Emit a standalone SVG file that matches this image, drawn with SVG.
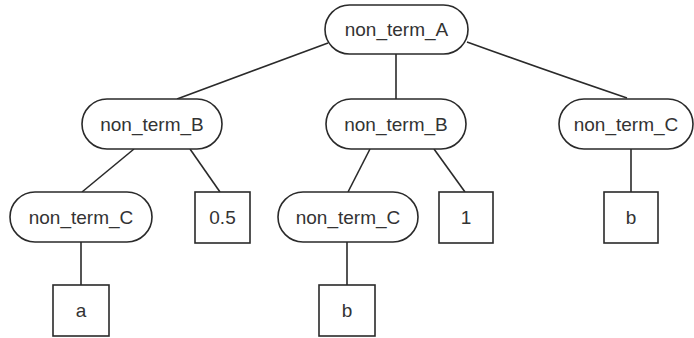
<svg xmlns="http://www.w3.org/2000/svg" width="694" height="338" viewBox="0 0 694 338">
  <style>
    .nt rect { fill: #ffffff; stroke: #2a2a2a; stroke-width: 1.6; }
    .lf rect { fill: #ffffff; stroke: #2a2a2a; stroke-width: 1.6; }
    text { font-family: "Liberation Sans", Arial, sans-serif; font-size: 19px; fill: #333333; text-anchor: middle; }
    .edges path, .edges line { stroke: #2a2a2a; stroke-width: 1.6; fill: none; }
  </style>
  <rect x="0" y="0" width="694" height="338" fill="#ffffff"/>

  <!-- tree edges -->
  <g class="edges">
    <path d="M328,43 Q250,72 177,99"/>
    <line x1="396" y1="54" x2="396" y2="99"/>
    <path d="M467,42 Q550,72 627,98"/>
    <line x1="134" y1="149" x2="82" y2="192"/>
    <line x1="190" y1="149" x2="220" y2="192"/>
    <line x1="370" y1="149" x2="348" y2="192"/>
    <line x1="434" y1="149" x2="465" y2="192"/>
    <line x1="631" y1="149" x2="631" y2="192"/>
    <line x1="81" y1="242" x2="81" y2="285"/>
    <line x1="347" y1="242" x2="347" y2="285"/>
  </g>

  <!-- non-terminal nodes -->
  <g id="nA" class="nt">
    <rect x="325" y="5" width="143" height="49" rx="24.5"/>
    <text x="396.5" y="36">non_term_A</text>
  </g>
  <g id="nB1" class="nt">
    <rect x="82" y="99" width="140" height="50" rx="25"/>
    <text x="152" y="131">non_term_B</text>
  </g>
  <g id="nB2" class="nt">
    <rect x="326" y="99" width="140" height="50" rx="25"/>
    <text x="396" y="131">non_term_B</text>
  </g>
  <g id="nC3" class="nt">
    <rect x="559" y="99" width="134" height="50" rx="25"/>
    <text x="626" y="131">non_term_C</text>
  </g>
  <g id="nC1" class="nt">
    <rect x="10" y="192" width="142" height="50" rx="25"/>
    <text x="81" y="224">non_term_C</text>
  </g>
  <g id="nC2" class="nt">
    <rect x="278" y="192" width="140" height="50" rx="25"/>
    <text x="348" y="224">non_term_C</text>
  </g>

  <!-- leaf nodes -->
  <g id="l05" class="lf">
    <rect x="195" y="192" width="55" height="51"/>
    <text x="222.5" y="224">0.5</text>
  </g>
  <g id="l1" class="lf">
    <rect x="439" y="192" width="54" height="51"/>
    <text x="466" y="224">1</text>
  </g>
  <g id="lb1" class="lf">
    <rect x="604" y="192" width="54" height="51"/>
    <text x="631" y="224">b</text>
  </g>
  <g id="la" class="lf">
    <rect x="53" y="285" width="56" height="51"/>
    <text x="81" y="317">a</text>
  </g>
  <g id="lb2" class="lf">
    <rect x="319" y="285" width="56" height="51"/>
    <text x="347" y="317">b</text>
  </g>
</svg>
